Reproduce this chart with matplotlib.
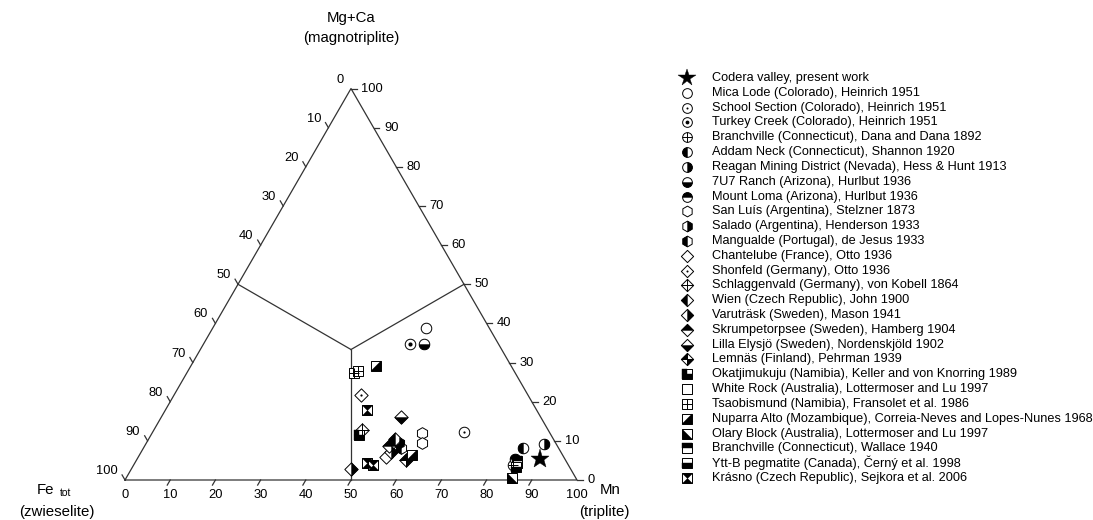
import numpy as np
import matplotlib
matplotlib.use("Agg")
import matplotlib.pyplot as plt
from matplotlib.path import Path

plt.rcParams['font.family'] = ['Liberation Sans', 'DejaVu Sans']

# ---------------- data: Mn and Mg+Ca (%), Fe_tot = 100 - Mn - Mg ----------------
codera_mn = [89.1];               codera_mg = [5.4]
mica_mn = [47.3];                 mica_mg = [38.8]
school_mn = [68.8];               school_mg = [12.3]
turkey_mn = [45.7];               turkey_mg = [34.7]
branchd_mn = [84.0];              branchd_mg = [3.8]
addam_mn = [83.8];                addam_mg = [8.3]
reagan_mn = [88.1];               reagan_mg = [9.1]
ranch_mn = [48.9];                ranch_mg = [34.7]
loma_mn = [83.5];                 loma_mg = [5.4]
sanluis_mn = [59.8, 61.1];        sanluis_mg = [11.9, 9.4]
salado_mn = [55.9];               salado_mg = [9.5]
mangualde_mn = [56.9];            mangualde_mg = [8.3]
chant_mn = [54.8];                chant_mg = [6.0]
shon_mn = [41.4];                 shon_mg = [21.7]
schlag_mn = [46.0];               schlag_mg = [12.8]
wien_mn = [54.5];                 wien_mg = [10.4]
varu_mn = [55.2, 48.5];           varu_mg = [7.2, 2.8]
skrum_mn = [54.0];                skrum_mg = [8.6]
lilla_mn = [53.0];                lilla_mg = [16.0]
lemnas_mn = [59.6];               lemnas_mg = [5.1]
okat_mn = [46.1];                 okat_mg = [11.5]
white_mn = [84.6];                white_mg = [4.4]
tsao_mn = [37.0, 37.7];           tsao_mg = [27.4, 27.9]
nuparra_mn = [40.9, 60.4];        nuparra_mg = [29.1, 6.4]
olary_mn = [85.4];                olary_mg = [0.6]
branchw_mn = [84.3];              branchw_mg = [4.9]
yttb_mn = [85.0];                 yttb_mg = [3.2]
krasno_mn = [44.7, 51.4, 53.0];   krasno_mg = [17.9, 4.3, 3.8]

labels = [
    "Codera valley, present work",
    "Mica Lode (Colorado), Heinrich 1951",
    "School Section (Colorado), Heinrich 1951",
    "Turkey Creek (Colorado), Heinrich 1951",
    "Branchville (Connecticut), Dana and Dana 1892",
    "Addam Neck (Connecticut), Shannon 1920",
    "Reagan Mining District (Nevada), Hess & Hunt 1913",
    "7U7 Ranch (Arizona), Hurlbut 1936",
    "Mount Loma (Arizona), Hurlbut 1936",
    "San Luís (Argentina), Stelzner 1873",
    "Salado (Argentina), Henderson 1933",
    "Mangualde (Portugal), de Jesus 1933",
    "Chantelube (France), Otto 1936",
    "Shonfeld (Germany), Otto 1936",
    "Schlaggenvald (Germany), von Kobell 1864",
    "Wien (Czech Republic), John 1900",
    "Varuträsk (Sweden), Mason 1941",
    "Skrumpetorpsee (Sweden), Hamberg 1904",
    "Lilla Elysjö (Sweden), Nordenskjöld 1902",
    "Lemnäs (Finland), Pehrman 1939",
    "Okatjimukuju (Namibia), Keller and von Knorring 1989",
    "White Rock (Australia), Lottermoser and Lu 1997",
    "Tsaobismund (Namibia), Fransolet et al. 1986",
    "Nuparra Alto (Mozambique), Correia-Neves and Lopes-Nunes 1968",
    "Olary Block (Australia), Lottermoser and Lu 1997",
    "Branchville (Connecticut), Wallace 1940",
    "Ytt-B pegmatite (Canada), Černý et al. 1998",
    "Krásno (Czech Republic), Sejkora et al. 2006",
]

tick_values = list(range(0, 101, 10))

# ---------------- marker geometry ----------------
def poly(pts):
    pts = list(pts) + [pts[0]]
    codes = [Path.MOVETO] + [Path.LINETO] * (len(pts) - 2) + [Path.CLOSEPOLY]
    return Path(pts, codes)

def segs(lines):
    v, c = [], []
    for a, b in lines:
        v += [a, b]; c += [Path.MOVETO, Path.LINETO]
    return Path(v, c)

CIRC = Path.unit_circle()
def wedge(t1, t2):
    return Path.wedge(t1, t2)
SQ = poly([(-1, -1), (1, -1), (1, 1), (-1, 1)])
DIA = poly([(0, 1), (1, 0), (0, -1), (-1, 0)])
HEX = poly([(np.cos(np.radians(90 + 60 * k)), np.sin(np.radians(90 + 60 * k))) for k in range(6)])
def hexhalf(side):
    a = [(np.cos(np.radians(90 + 60 * k)), np.sin(np.radians(90 + 60 * k))) for k in range(6)]
    if side == 'left':
        return poly([(0, 1), a[1], a[2], (0, -1)])
    return poly([(0, -1), a[4], a[5], (0, 1)])

CROSS = segs([((-1, 0), (1, 0)), ((0, -1), (0, 1))])
S_C, S_S, S_D, S_H = 7.6, 7.2, 9.6, 8.4  # marker sizes (pt)

# spec: (outline path, size, [fill paths], [line paths], dot size)
specs = [
    ('star', 14, [], [], 0),
    (CIRC, S_C, [], [], 0),
    (CIRC, S_C, [], [], 1.6),
    (CIRC, S_C, [], [], 3.0),
    (CIRC, S_C, [], [CROSS], 0),
    (CIRC, S_C, [wedge(90, 270)], [], 0),
    (CIRC, S_C, [wedge(270, 450)], [], 0),
    (CIRC, S_C, [wedge(180, 360)], [], 0),
    (CIRC, S_C, [wedge(0, 180)], [], 0),
    (HEX, S_H, [], [], 0),
    (HEX, S_H, [hexhalf('right')], [], 0),
    (HEX, S_H, [hexhalf('left')], [], 0),
    (DIA, S_D, [], [], 0),
    (DIA, S_D, [], [], 1.6),
    (DIA, S_D, [], [CROSS], 0),
    (DIA, S_D, [poly([(0, 1), (0, -1), (-1, 0)])], [], 0),
    (DIA, S_D, [poly([(0, 1), (1, 0), (0, -1)])], [], 0),
    (DIA, S_D, [poly([(-1, 0), (0, 1), (1, 0)])], [], 0),
    (DIA, S_D, [poly([(-1, 0), (1, 0), (0, -1)])], [], 0),
    (DIA, S_D, [poly([(0, 0), (-1, 0), (0, 1)]), poly([(0, 0), (1, 0), (0, -1)])], [CROSS], 0),
    (SQ, S_S, [poly([(-1, 0), (0, 0), (0, 1), (-1, 1)]), poly([(0, -1), (1, -1), (1, 0), (0, 0)]),
               poly([(-1, -1), (0, -1), (0, 0), (-1, 0)])], [], 0),
    (SQ, S_S, [], [], 0),
    (SQ, S_S, [], [CROSS], 0),
    (SQ, S_S, [poly([(-1, -1), (1, -1), (1, 1)])], [], 0),
    (SQ, S_S, [poly([(-1, -1), (1, -1), (-1, 1)])], [], 0),
    (SQ, S_S, [poly([(-1, 0), (1, 0), (1, 1), (-1, 1)])], [], 0),
    (SQ, S_S, [poly([(-1, -1), (1, -1), (1, 0), (-1, 0)])], [], 0),
    (SQ, S_S, [poly([(-1, 1), (1, 1), (0, 0)]), poly([(-1, -1), (1, -1), (0, 0)])], [], 0),
]

series_mn = [codera_mn, mica_mn, school_mn, turkey_mn, branchd_mn, addam_mn, reagan_mn,
             ranch_mn, loma_mn, sanluis_mn, salado_mn, mangualde_mn, chant_mn, shon_mn,
             schlag_mn, wien_mn, varu_mn, skrum_mn, lilla_mn, lemnas_mn, okat_mn, white_mn,
             tsao_mn, nuparra_mn, olary_mn, branchw_mn, yttb_mn, krasno_mn]
series_mg = [codera_mg, mica_mg, school_mg, turkey_mg, branchd_mg, addam_mg, reagan_mg,
             ranch_mg, loma_mg, sanluis_mg, salado_mg, mangualde_mg, chant_mg, shon_mg,
             schlag_mg, wien_mg, varu_mg, skrum_mg, lilla_mg, lemnas_mg, okat_mg, white_mg,
             tsao_mg, nuparra_mg, olary_mg, branchw_mg, yttb_mg, krasno_mg]

SQ3 = np.sqrt(3) / 2
def tern(mn, mg):
    mn = np.asarray(mn, float); mg = np.asarray(mg, float)
    return mn + mg / 2.0, mg * SQ3

def draw_marker(ax, x, y, spec, scale=1.0, z=5):
    outline, size, fills, lines, dot = spec
    size = size * scale
    lw = 0.7
    if outline == 'star':
        ax.plot(x, y, ls='none', marker='*', ms=size, mfc='k', mec='k', mew=0.3, zorder=z)
        return
    ax.plot(x, y, ls='none', marker=outline, ms=size, mfc='white', mec='k', mew=lw, zorder=z)
    for fp in fills:
        ax.plot(x, y, ls='none', marker=fp, ms=size, mfc='k', mec='k', mew=0.3, zorder=z + 0.1)
    for lp in lines:
        ax.plot(x, y, ls='none', marker=lp, ms=size, mfc='none', mec='k', mew=lw, zorder=z + 0.2)
    if dot:
        ax.plot(x, y, ls='none', marker='o', ms=dot * scale, mfc='k', mec='k', mew=0, zorder=z + 0.3)

# ---------------- figure ----------------
W, H = 1093, 520
PX = 4.52                   # pixels per % unit
OX, OY = 125, 480           # pixel position of Fe corner (from left, from top)
fig = plt.figure(figsize=(W / 100, H / 100), dpi=100)
ax = fig.add_axes([0, 0, 1, 1])
ax.set_xlim(-OX / PX, (W - OX) / PX)
ax.set_ylim(-(H - OY) / PX, OY / PX)
ax.axis('off')

def P(px, py):  # layout helper: pixel -> axis units
    return (px - OX) / PX, (OY - py) / PX

lc = '#333333'
tri_x, tri_y = tern([0, 100, 0, 0], [0, 0, 100, 0])
ax.plot(tri_x, tri_y, color=lc, lw=0.9, zorder=2)
# field boundaries from the centroid to the side midpoints
cx, cy = tern([100 / 3], [100 / 3])
for mn, mg in [(50, 0), (50, 50), (0, 50)]:
    mx, my = tern([mn], [mg])
    ax.plot([cx[0], mx[0]], [cy[0], my[0]], color=lc, lw=0.9, zorder=2)

TL = 1.3
fs_tick = 9.3
for t in tick_values:
    # bottom axis: Mn
    bx, by = tern([t], [0])
    if 0 < t < 100:
        ax.plot([bx[0], bx[0] - TL * 0.5], [by[0], by[0] - TL * SQ3], color=lc, lw=0.9)
    ax.text(bx[0], by[0] - 3.3, str(t), ha='center', va='center', fontsize=fs_tick)
    # right axis: Mg+Ca
    rx, ry = tern([100 - t], [t])
    ax.plot([rx[0], rx[0] + TL], [ry[0], ry[0]], color=lc, lw=0.9)
    ax.text(rx[0] + 2.3, ry[0], str(t), ha='left', va='center', fontsize=fs_tick)
    # left axis: Fe
    lx, ly = tern([0], [100 - t])
    if t > 0:
        ax.plot([lx[0], lx[0] - TL * 0.5], [ly[0], ly[0] + TL * SQ3], color=lc, lw=0.9)
    ax.text(lx[0] - 1.6, ly[0] + 2.0, str(t), ha='right', va='center', fontsize=fs_tick)

fs_t = 10.8
ax.text(*P(351, 18), "Mg+Ca", ha='center', va='center', fontsize=fs_t)
ax.text(*P(351, 38), "(magnotriplite)", ha='center', va='center', fontsize=fs_t)
ax.text(*P(46, 490), "Fe", ha='center', va='center', fontsize=fs_t)
ax.text(*P(60, 493), "tot", ha='left', va='center', fontsize=7.5)
ax.text(*P(57, 512), "(zwieselite)", ha='center', va='center', fontsize=fs_t)
ax.text(*P(610, 490), "Mn", ha='center', va='center', fontsize=fs_t)
ax.text(*P(604, 512), "(triplite)", ha='center', va='center', fontsize=fs_t)

# data points
for mn, mg, spec in zip(series_mn, series_mg, specs):
    x, y = tern(mn, mg)
    draw_marker(ax, x, y, spec)

# legend
LX_M, LX_T, LY0, LDY = 687, 712, 78, 400 / 27
for i, (lab, spec) in enumerate(zip(labels, specs)):
    mx, my = P(LX_M, LY0 + i * LDY)
    draw_marker(ax, [mx], [my], spec, scale=0.92)
    tx, ty = P(LX_T, LY0 + i * LDY)
    ax.text(tx, ty, lab, ha='left', va='center', fontsize=9.2)

fig.savefig("out.png", dpi=100)
